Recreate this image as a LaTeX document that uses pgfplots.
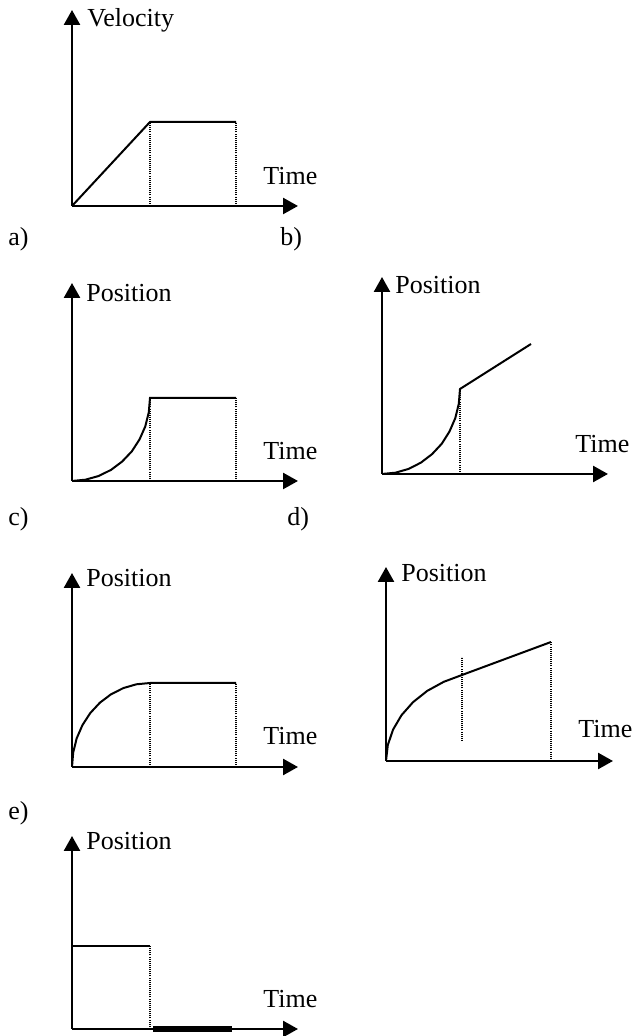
\documentclass[border=0pt]{standalone}
\usepackage{fontspec}
\setmainfont{Liberation Serif}
\usepackage{pgfplots}
\pgfplotsset{compat=1.18}
\usetikzlibrary{arrows.meta}

% one unit = one pixel of the reference (0.5pt)
\pgfplotsset{
  sketch/.style={
    x=0.5pt, y=0.5pt,
    xmin=0, xmax=226, ymin=0, ymax=196,
    enlargelimits=false,
    axis lines=left,
    axis line style={line width=1.25pt, -{Triangle[length=7.5pt,width=8pt]}},
    xtick=\empty, ytick=\empty,
    clip=false,
    anchor=origin,
  },
  curve/.style={black, line width=1pt, no markers},
  guide/.style={black, line width=0.7pt, dash pattern=on 0.5pt off 0.55pt, no markers},
}
\newcommand{\lbl}[3]{\node[anchor=base west, inner sep=0pt,
  font=\fontsize{13}{15}\selectfont] at (axis cs:#1,#2) {#3};}
\newcommand{\tag}[2]{\node[anchor=base west, inner sep=0pt,
  font=\fontsize{13}{15}\selectfont] at (#1) {#2};}

\begin{document}
\begin{tikzpicture}

% a) velocity
\begin{axis}[sketch, at={(36pt,415pt)}]
\addplot[curve] coordinates {(0,0) (78,84) (164,84)};
\addplot[guide] coordinates {(78,0) (78,84)};
\addplot[guide] coordinates {(164,0) (164,84)};
\lbl{15}{179}{Velocity}
\lbl{191}{21}{Time}
\end{axis}

% c) position, accelerating then at rest
\begin{axis}[sketch, at={(36pt,277.5pt)}, ymax=198]
\addplot[curve] coordinates {
  (0,0) (13.5,1.3) (26.7,5.0) (39,11.1) (50.1,19.4) (59.8,29.6)
  (67.5,41.5) (73.3,54.6) (76.8,68.6) (78,83) (164,83)};
\addplot[guide] coordinates {(78,0) (78,83)};
\addplot[guide] coordinates {(164,0) (164,83)};
\lbl{14}{179}{Position}
\lbl{191}{21}{Time}
\end{axis}

% d) position, accelerating then constant speed
\begin{axis}[sketch, at={(191pt,281pt)}, ymax=197]
\addplot[curve] coordinates {
  (0,0) (13.5,1.3) (26.7,5.1) (39,11.4) (50.1,19.9) (59.8,30.3)
  (67.5,42.5) (73.3,55.9) (76.8,70.2) (78,85) (149,130)};
\addplot[guide] coordinates {(78,0) (78,85)};
\lbl{13}{180}{Position}
\lbl{193}{21}{Time}
\end{axis}

% e) left: decelerating then at rest
\begin{axis}[sketch, at={(36pt,134.5pt)}, ymax=194]
\addplot[curve] coordinates {
  (0,0) (1.2,14.6) (4.7,28.7) (10.5,42) (18.3,54) (27.9,64.3)
  (39,72.7) (51.3,78.9) (64.4,82.7) (78,84) (164,84)};
\addplot[guide] coordinates {(78,0) (78,84)};
\addplot[guide] coordinates {(164,0) (164,84)};
\lbl{14}{180}{Position}
\lbl{191}{22}{Time}
\end{axis}

% e) right: decelerating then constant speed
\begin{axis}[sketch, at={(193pt,137.5pt)}, xmax=227, ymax=194]
\addplot[curve] coordinates {
  (0,0) (1.8,15.9) (7,31.3) (15.5,45.8) (27,58.8) (41.2,70.1)
  (57.8,79.2) (76,86) (165,119)};
\addplot[guide] coordinates {(76,20) (76,104)};
\addplot[guide] coordinates {(165,0) (165,119)};
\lbl{15}{179}{Position}
\lbl{192}{23}{Time}
\end{axis}

% bottom: at rest, then no longer there
\begin{axis}[sketch, at={(36pt,3.5pt)}, ymax=193]
\addplot[black, line width=0.6pt, no markers] coordinates {(0,83) (78,83)};
\addplot[guide] coordinates {(78,0) (78,83)};
\addplot[black, line width=2.6pt, no markers] coordinates {(81,0) (160,0)};
\lbl{14}{179}{Position}
\lbl{191}{21}{Time}
\end{axis}

\tag{4pt,395pt}{a)}
\tag{140pt,395pt}{b)}
\tag{4pt,255pt}{c)}
\tag{143.5pt,255pt}{d)}
\tag{4pt,108pt}{e)}

\pgfresetboundingbox
\path[use as bounding box] (0,0) rectangle (316pt,518pt);
\end{tikzpicture}
\end{document}
